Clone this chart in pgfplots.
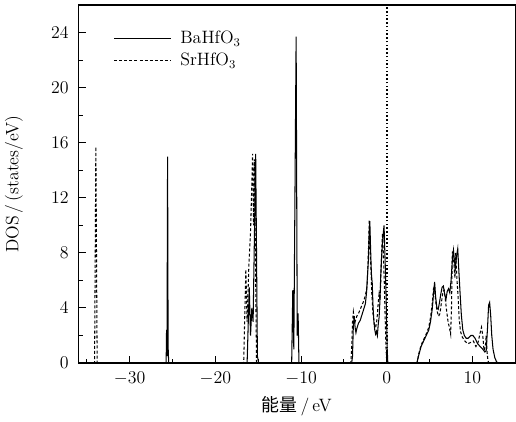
\documentclass[border=0pt]{standalone}
\usepackage{pgfplots}
\pgfplotsset{compat=1.18}
\usepackage{fontspec}
\newfontfamily\cjk{Noto Sans CJK SC}

% DOS of BaHfO3 / SrHfO3
\pgfplotstableread{
x y
-36 0
-25.75 0
-25.7 2.4
-25.65 0.5
-25.58 15.0
-25.52 1.2
-25.45 0
-16.3 0
-16.05 5.5
-15.9 2.0
-15.75 4.0
-15.6 3.0
-15.3 15.2
-15.1 0.5
-14.95 0
-11.1 0
-10.97 5.3
-10.85 1.0
-10.58 23.7
-10.45 2.0
-10.35 3.6
-10.25 0
-4.1 0
-4.0 0.5
-3.9 2.8
-3.8 3.4
-3.7 2.6
-3.6 2.2
-3.5 2.5
-3.3 2.9
-3.1 3.1
-2.9 3.5
-2.7 3.9
-2.5 4.3
-2.35 5.2
-2.25 6.4
-2.15 7.5
-2.05 9.5
-1.98 10.3
-1.9 8.5
-1.8 6.5
-1.7 5.8
-1.6 4.0
-1.5 3.0
-1.4 2.4
-1.3 2.1
-1.2 2.3
-1.1 2.0
-1.0 2.8
-0.9 3.3
-0.8 4.5
-0.7 6.5
-0.6 7.8
-0.5 8.8
-0.4 9.5
-0.32 10.0
-0.25 8.5
-0.15 6.5
-0.05 4.0
0.05 1.0
0.12 0
3.5 0
3.7 0.5
4.0 1.2
4.3 1.6
4.6 2.0
4.9 2.4
5.1 3.0
5.3 3.9
5.45 5.0
5.58 5.9
5.7 4.8
5.85 4.0
6.0 3.9
6.15 4.4
6.3 5.0
6.45 5.5
6.6 5.6
6.75 5.0
6.9 4.6
7.05 5.2
7.2 5.4
7.35 5.1
7.5 6.0
7.65 7.5
7.78 8.2
7.9 7.4
8.0 6.9
8.15 7.8
8.28 8.3
8.4 6.8
8.55 5.1
8.7 3.5
8.87 2.4
9.05 2.0
9.26 1.8
9.5 1.8
9.8 2.0
10.05 2.0
10.3 1.8
10.6 1.4
10.9 1.2
11.2 1.0
11.45 0.8
11.6 0.9
11.75 2.5
11.88 4.2
12.0 4.4
12.12 3.5
12.25 2.0
12.4 1.0
12.6 0.4
12.8 0.1
12.95 0
15 0
}\ba

\pgfplotstableread{
x y
-36 0
-34.1 0
-33.95 15.7
-33.8 0
-16.7 0
-16.45 6.8
-16.3 3.0
-16.1 7.0
-15.9 9.5
-15.66 15.2
-15.55 10.0
-15.45 14.8
-15.3 6.0
-15.2 0
-4.2 0
-4.1 1.0
-4.0 3.0
-3.9 3.7
-3.8 3.2
-3.7 3.0
-3.5 3.4
-3.3 3.6
-3.1 3.9
-2.9 4.2
-2.7 4.5
-2.5 4.9
-2.3 5.6
-2.2 7.0
-2.1 9.0
-2.05 10.4
-1.95 8.0
-1.85 7.0
-1.75 5.0
-1.6 3.5
-1.45 2.8
-1.3 2.6
-1.2 2.9
-1.1 3.5
-1.0 4.4
-0.9 5.0
-0.8 4.6
-0.7 6.0
-0.6 8.0
-0.5 9.4
-0.4 8.0
-0.3 6.0
-0.2 3.5
-0.1 1.2
0.0 0
3.55 0
3.7 0.6
4.0 1.3
4.3 1.7
4.6 2.1
4.9 2.6
5.1 3.3
5.3 4.3
5.45 5.4
5.55 5.6
5.7 4.5
5.85 3.8
6.05 3.4
6.2 3.6
6.4 4.5
6.55 5.2
6.7 5.3
6.85 4.5
7.0 3.7
7.15 3.0
7.3 2.6
7.45 2.1
7.55 4.0
7.65 8.1
7.8 7.5
7.95 6.2
8.05 8.0
8.15 6.5
8.3 5.0
8.45 3.2
8.6 2.3
8.8 1.9
9.1 1.6
9.45 1.4
9.8 1.5
10.1 1.6
10.4 1.2
10.65 1.5
10.9 2.2
11.05 2.6
11.2 2.0
11.35 0.9
11.5 1.2
11.6 2.0
11.7 0.8
11.8 0.2
11.9 0
15 0
}\sr

\begin{document}
\begin{tikzpicture}
\begin{axis}[
    scale only axis,
    width=293pt, height=240pt,
    xmin=-36, xmax=15,
    ymin=0, ymax=26,
    xtick={-30,-20,-10,0,10},
    ytick={0,4,8,12,16,20,24},
    minor xtick={-35,-25,-15,-5,5},
    minor ytick={2,6,10,14,18,22},
    xtick pos=bottom, ytick pos=left,
    tick align=inside,
    major tick length=5pt, minor tick length=3pt,
    axis line style={line width=0.9pt},
    every tick/.style={black, line width=0.7pt},
    ticklabel style={font=\fontsize{12}{14}\selectfont},
    xticklabel style={yshift=-2.5pt},
    yticklabel style={xshift=-3pt},
    xlabel={{\cjk 能量}\,/\,eV},
    ylabel={DOS\,/\,(states/eV)},
    label style={font=\fontsize{12}{14}\selectfont},
    ylabel shift=12pt,
    xlabel shift=1pt,
    legend style={at={(0.07,0.945)}, anchor=north west, draw=none, fill=none,
        font=\fontsize{12}{14}\selectfont, row sep=1pt},
    legend cell align=left,
    legend image code/.code={\draw[#1] (0pt,0pt) -- (38pt,0pt); \path (42pt,0pt);},
]
\addplot[black, line width=0.7pt] table[x=x, y=y] {\ba};
\addlegendentry{BaHfO$_3$}
\addplot[black, line width=0.7pt, dash pattern=on 2pt off 1.4pt] table[x=x, y=y] {\sr};
\addlegendentry{SrHfO$_3$}
\addplot[black, line width=1.3pt, dash pattern=on 1pt off 1.5pt, forget plot] coordinates {(0,0) (0,26)};
\end{axis}
\path ([yshift=3.4pt]current axis.north);
\end{tikzpicture}
\end{document}
